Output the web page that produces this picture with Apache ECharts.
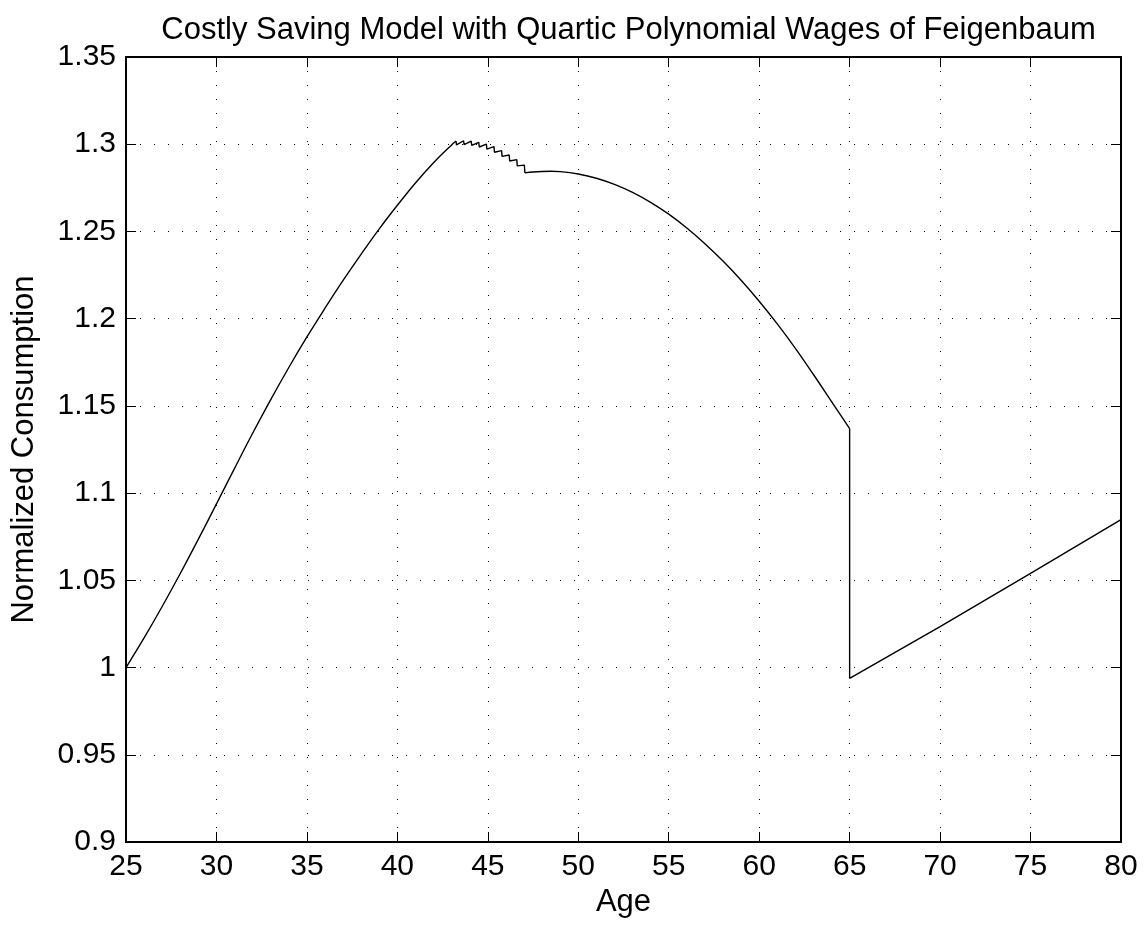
<!DOCTYPE html>
<html>
<head>
<meta charset="utf-8">
<script src="https://cdn.jsdelivr.net/npm/echarts@6/dist/echarts.min.js"></script>
<style>
html,body{margin:0;padding:0;background:#fff;}
#chart{width:1146px;height:927px;}
</style>
</head>
<body>
<div id="chart"></div>
<script>
// Data
// Working life, rising part
const riseAges = [25, 26, 27, 28, 29, 30, 31, 32, 33, 34, 35, 36, 37, 38, 39, 40, 41, 42, 43, 43.24];
const riseCons = [1.0000, 1.0170, 1.0350, 1.0539, 1.0736, 1.0938, 1.1142, 1.1343, 1.1536, 1.1720,
                  1.1895, 1.2060, 1.2219, 1.2370, 1.2515, 1.2650, 1.2778, 1.2894, 1.2996, 1.3018];
// Saw-tooth section around the peak
const sawAges = [43.24, 43.27, 43.66, 43.69, 44.08, 44.11, 44.50, 44.53, 44.92, 44.95,
                 45.34, 45.37, 45.76, 45.79, 46.18, 46.21, 46.60, 46.63, 47.02, 47.05];
const sawCons = [1.3018, 1.2996, 1.3020, 1.2997, 1.3018, 1.2993, 1.3011, 1.2984, 1.3001, 1.2972,
                 1.2986, 1.2954, 1.2963, 1.2930, 1.2938, 1.2904, 1.2912, 1.2876, 1.2880, 1.2836];
// Working life, declining part
const fallAges = [47.05, 47.5, 48, 48.5, 49, 50, 51, 52, 53, 54, 55, 56, 57, 58, 59, 60, 61, 62, 63, 64, 65];
const fallCons = [1.2836, 1.2841, 1.2844, 1.2845, 1.2843, 1.2829, 1.2805, 1.2770, 1.2724, 1.2667,
                  1.2599, 1.2520, 1.2430, 1.2330, 1.2220, 1.2100, 1.1970, 1.1830, 1.1680, 1.1525, 1.1370];
// Retirement
const retireAges = [65, 65, 70, 75, 80];
const retireCons = [1.1370, 0.9938, 1.0235, 1.0540, 1.0848];

const xTicks = {min: 25, max: 80, step: 5};
const yTicks = {min: 0.9, max: 1.35, step: 0.05};
const titleText = 'Costly Saving Model with Quartic Polynomial Wages of Feigenbaum';
const xName = 'Age';
const yName = 'Normalized Consumption';

const pairs = (a, v) => a.map((x, i) => [x, v[i]]);
const FONT = 'Liberation Sans, Arial, Helvetica, sans-serif';
const gridLine = {show: true, lineStyle: {color: '#000', width: 1, type: [1, 13]}};
const fmt = v => String(parseFloat(v.toFixed(2)));
const frameLine = {show: true, onZero: false, lineStyle: {color: '#000', width: 2}};
const tick = {show: true, inside: true, length: 10, lineStyle: {color: '#000', width: 1}};
const lineSeries = (data, smooth) => ({
  type: 'line', data: data, xAxisIndex: 0, yAxisIndex: 0,
  showSymbol: false, symbol: 'none', smooth: smooth,
  lineStyle: {color: '#000', width: 1.4}
});

const chart = echarts.init(document.getElementById('chart'), null, {renderer: 'canvas'});
chart.setOption({
  animation: false,
  backgroundColor: '#fff',
  title: {
    text: titleText, left: 623.5, top: 10, textAlign: 'center',
    textStyle: {fontFamily: FONT, fontSize: 31, fontWeight: 'normal', color: '#000'}
  },
  grid: {left: 126, right: 25, top: 57, bottom: 85, containLabel: false},
  xAxis: [{
    type: 'value', min: xTicks.min, max: xTicks.max, interval: xTicks.step,
    position: 'bottom',
    name: xName, nameLocation: 'middle', nameGap: 29,
    nameTextStyle: {fontFamily: FONT, fontSize: 31, color: '#000'},
    axisLine: frameLine, axisTick: tick,
    axisLabel: {fontFamily: FONT, fontSize: 30, color: '#000', margin: 10, formatter: fmt},
    splitLine: gridLine
  }, {
    type: 'value', min: xTicks.min, max: xTicks.max, interval: xTicks.step,
    position: 'top',
    axisLine: frameLine, axisTick: tick,
    axisLabel: {show: false}, splitLine: {show: false}
  }],
  yAxis: [{
    type: 'value', min: yTicks.min, max: yTicks.max, interval: yTicks.step,
    position: 'left',
    name: yName, nameLocation: 'middle', nameGap: 86, nameRotate: 90,
    nameTextStyle: {fontFamily: FONT, fontSize: 31, color: '#000'},
    axisLine: frameLine, axisTick: tick,
    axisLabel: {fontFamily: FONT, fontSize: 30, color: '#000', margin: 10, formatter: fmt},
    splitLine: gridLine
  }, {
    type: 'value', min: yTicks.min, max: yTicks.max, interval: yTicks.step,
    position: 'right',
    axisLine: frameLine, axisTick: tick,
    axisLabel: {show: false}, splitLine: {show: false}
  }],
  series: [
    lineSeries(pairs(riseAges, riseCons), 0.4),
    lineSeries(pairs(sawAges, sawCons), false),
    lineSeries(pairs(fallAges, fallCons), 0.4),
    lineSeries(pairs(retireAges, retireCons), false)
  ]
});
</script>
</body>
</html>
